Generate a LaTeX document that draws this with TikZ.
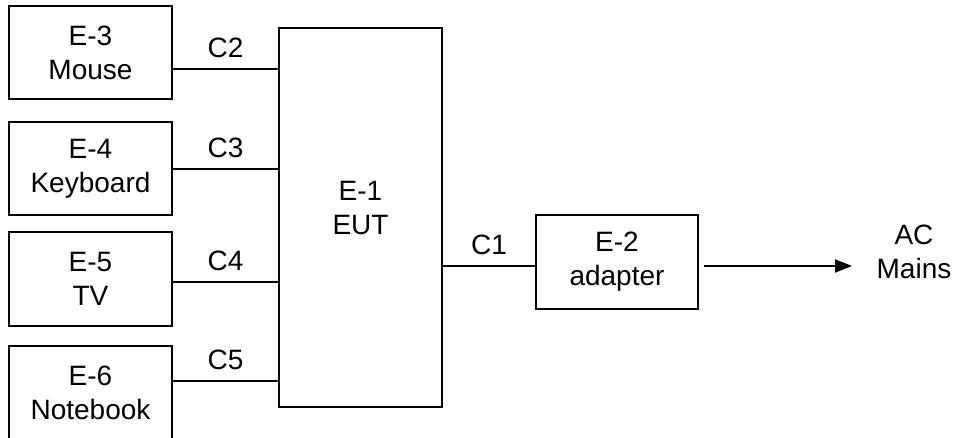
\documentclass[tikz,border=0pt]{standalone}
\usepackage{fontspec}
\setmainfont{Liberation Sans}
\usetikzlibrary{arrows.meta}
\begin{document}
\begin{tikzpicture}[x=1pt,y=-1pt,
  box/.style={draw=black,line width=2pt,align=center,inner sep=0pt,
    font=\fontsize{28}{34}\selectfont},
  txt/.style={align=center,inner sep=0pt,font=\fontsize{28}{34}\selectfont},
  lbl/.style={midway,anchor=base,yshift=12pt,inner sep=0pt,font=\fontsize{28}{34}\selectfont},
  wire/.style={line width=2pt},
  arrowline/.style={line width=2pt,-{Triangle[length=17pt,width=13pt]}}]
\useasboundingbox (0,0) rectangle (955,437);
\node[box,minimum width=163pt,minimum height=93pt] (mouse) at (90.5,52.5) {E-3\\Mouse};
\node[box,minimum width=163pt,minimum height=93pt] (keyb) at (90.5,168.5) {E-4\\Keyboard};
\node[box,minimum width=163pt,minimum height=94pt] (tv) at (90.5,279) {E-5\\TV};
\node[box,minimum width=163pt,minimum height=93pt] (note) at (90.5,392.5) {E-6\\Notebook};
\node[box,minimum width=163pt,minimum height=379pt] (eut) at (360.5,217.5) {};
\node[txt] (eutlabel) at (360.5,208) {E-1\\EUT};
\node[box,minimum width=162pt,minimum height=94pt] (adapter) at (617,262) {E-2\\adapter};
\node[txt] (mains) at (914,252) {AC\\Mains};
\coordinate (l2) at (0,69);
\coordinate (l3) at (0,169);
\coordinate (l4) at (0,282);
\coordinate (l5) at (0,381);
\coordinate (l1) at (0,266);
\coordinate (tip) at (852,266);
\draw[wire] (mouse.east |- l2) -- node[lbl]{C2} (eut.west |- l2);
\draw[wire] (keyb.east |- l3) -- node[lbl]{C3} (eut.west |- l3);
\draw[wire] (tv.east |- l4) -- node[lbl]{C4} (eut.west |- l4);
\draw[wire] (note.east |- l5) -- node[lbl]{C5} (eut.west |- l5);
\draw[wire] (eut.east |- l1) -- node[lbl]{C1} (adapter.west |- l1);
\draw[arrowline] ([xshift=5pt]adapter.east |- l1) -- (tip);
\end{tikzpicture}
\end{document}
